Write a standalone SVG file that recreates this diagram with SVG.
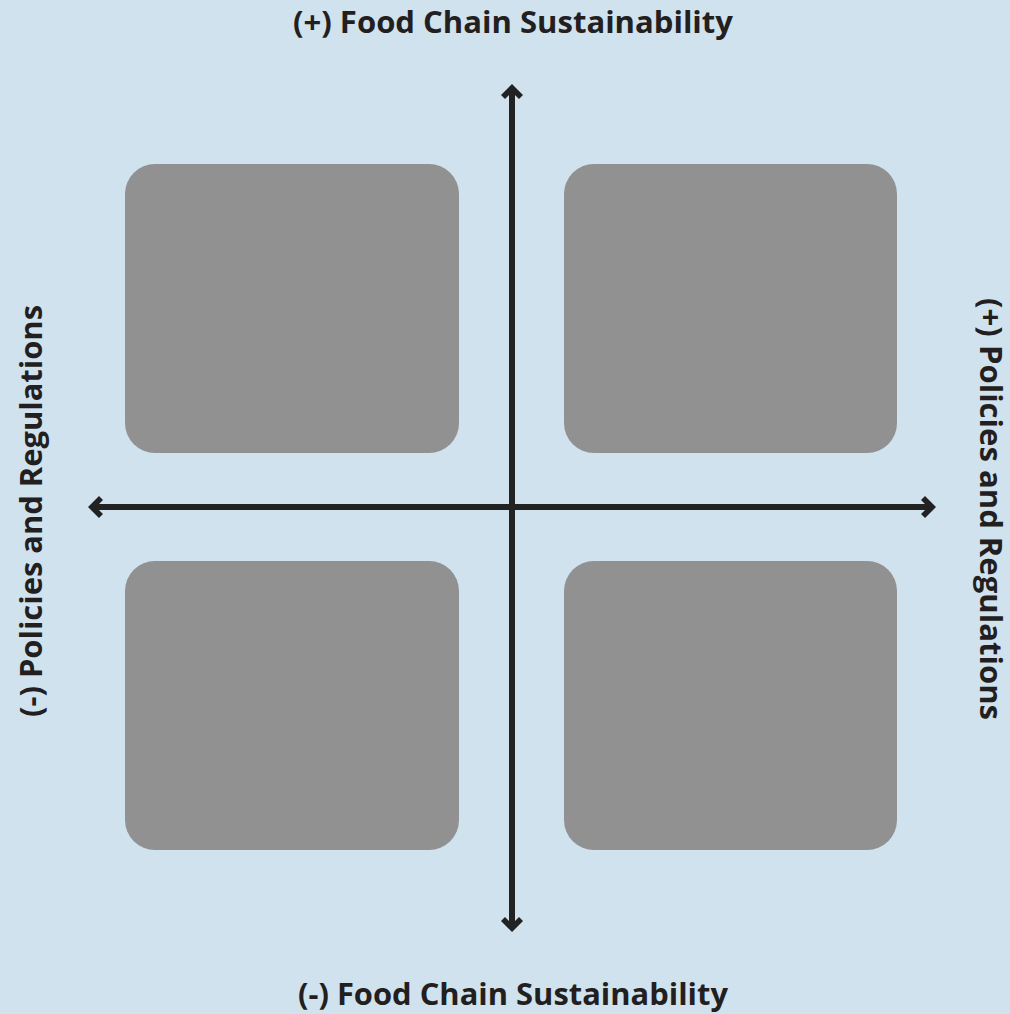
<svg xmlns="http://www.w3.org/2000/svg" width="1010" height="1014" viewBox="0 0 1010 1014">
<style>
.box{fill:#919191}
.ax{stroke:#222222;stroke-width:6;fill:none}
.hd{fill:#222222}
.lbl{font-family:"Open Sans","Noto Sans",sans-serif;font-weight:bold;font-size:30px;fill:#231f20}
</style>
<rect x="0" y="0" width="1010" height="1014" fill="#d0e2ee"/>
<g id="q1"><rect class="box" x="125" y="164" width="334" height="289" rx="30"/></g>
<g id="q2"><rect class="box" x="564" y="164" width="333" height="289" rx="30"/></g>
<g id="q3"><rect class="box" x="125" y="561" width="334" height="289" rx="30"/></g>
<g id="q4"><rect class="box" x="564" y="561" width="333" height="289" rx="30"/></g>
<g id="connectors">
<line class="ax" x1="512" y1="90" x2="512" y2="926"/>
<line class="ax" x1="94" y1="507" x2="930" y2="507"/>
<path class="hd" d="M512,84 L523,95 L519,99 L512,92 L505,99 L501,95 Z"/>
<path class="hd" d="M512,932 L523,921 L519,917 L512,924 L505,917 L501,921 Z"/>
<path class="hd" d="M88,507 L99,496 L103,500 L96,507 L103,514 L99,518 Z"/>
<path class="hd" d="M936,507 L925,496 L921,500 L928,507 L921,514 L925,518 Z"/>
</g>
<g id="labels">
<text class="lbl" x="513" y="33" text-anchor="middle" textLength="440" lengthAdjust="spacingAndGlyphs">(+) Food Chain Sustainability</text>
<text class="lbl" x="513" y="1005" text-anchor="middle" textLength="430" lengthAdjust="spacingAndGlyphs">(-) Food Chain Sustainability</text>
<text class="lbl" transform="translate(42,511) rotate(-90)" text-anchor="middle" textLength="412" lengthAdjust="spacingAndGlyphs">(-) Policies and Regulations</text>
<text class="lbl" transform="translate(980,509) rotate(90)" text-anchor="middle" textLength="422" lengthAdjust="spacingAndGlyphs">(+) Policies and Regulations</text>
</g>
</svg>
